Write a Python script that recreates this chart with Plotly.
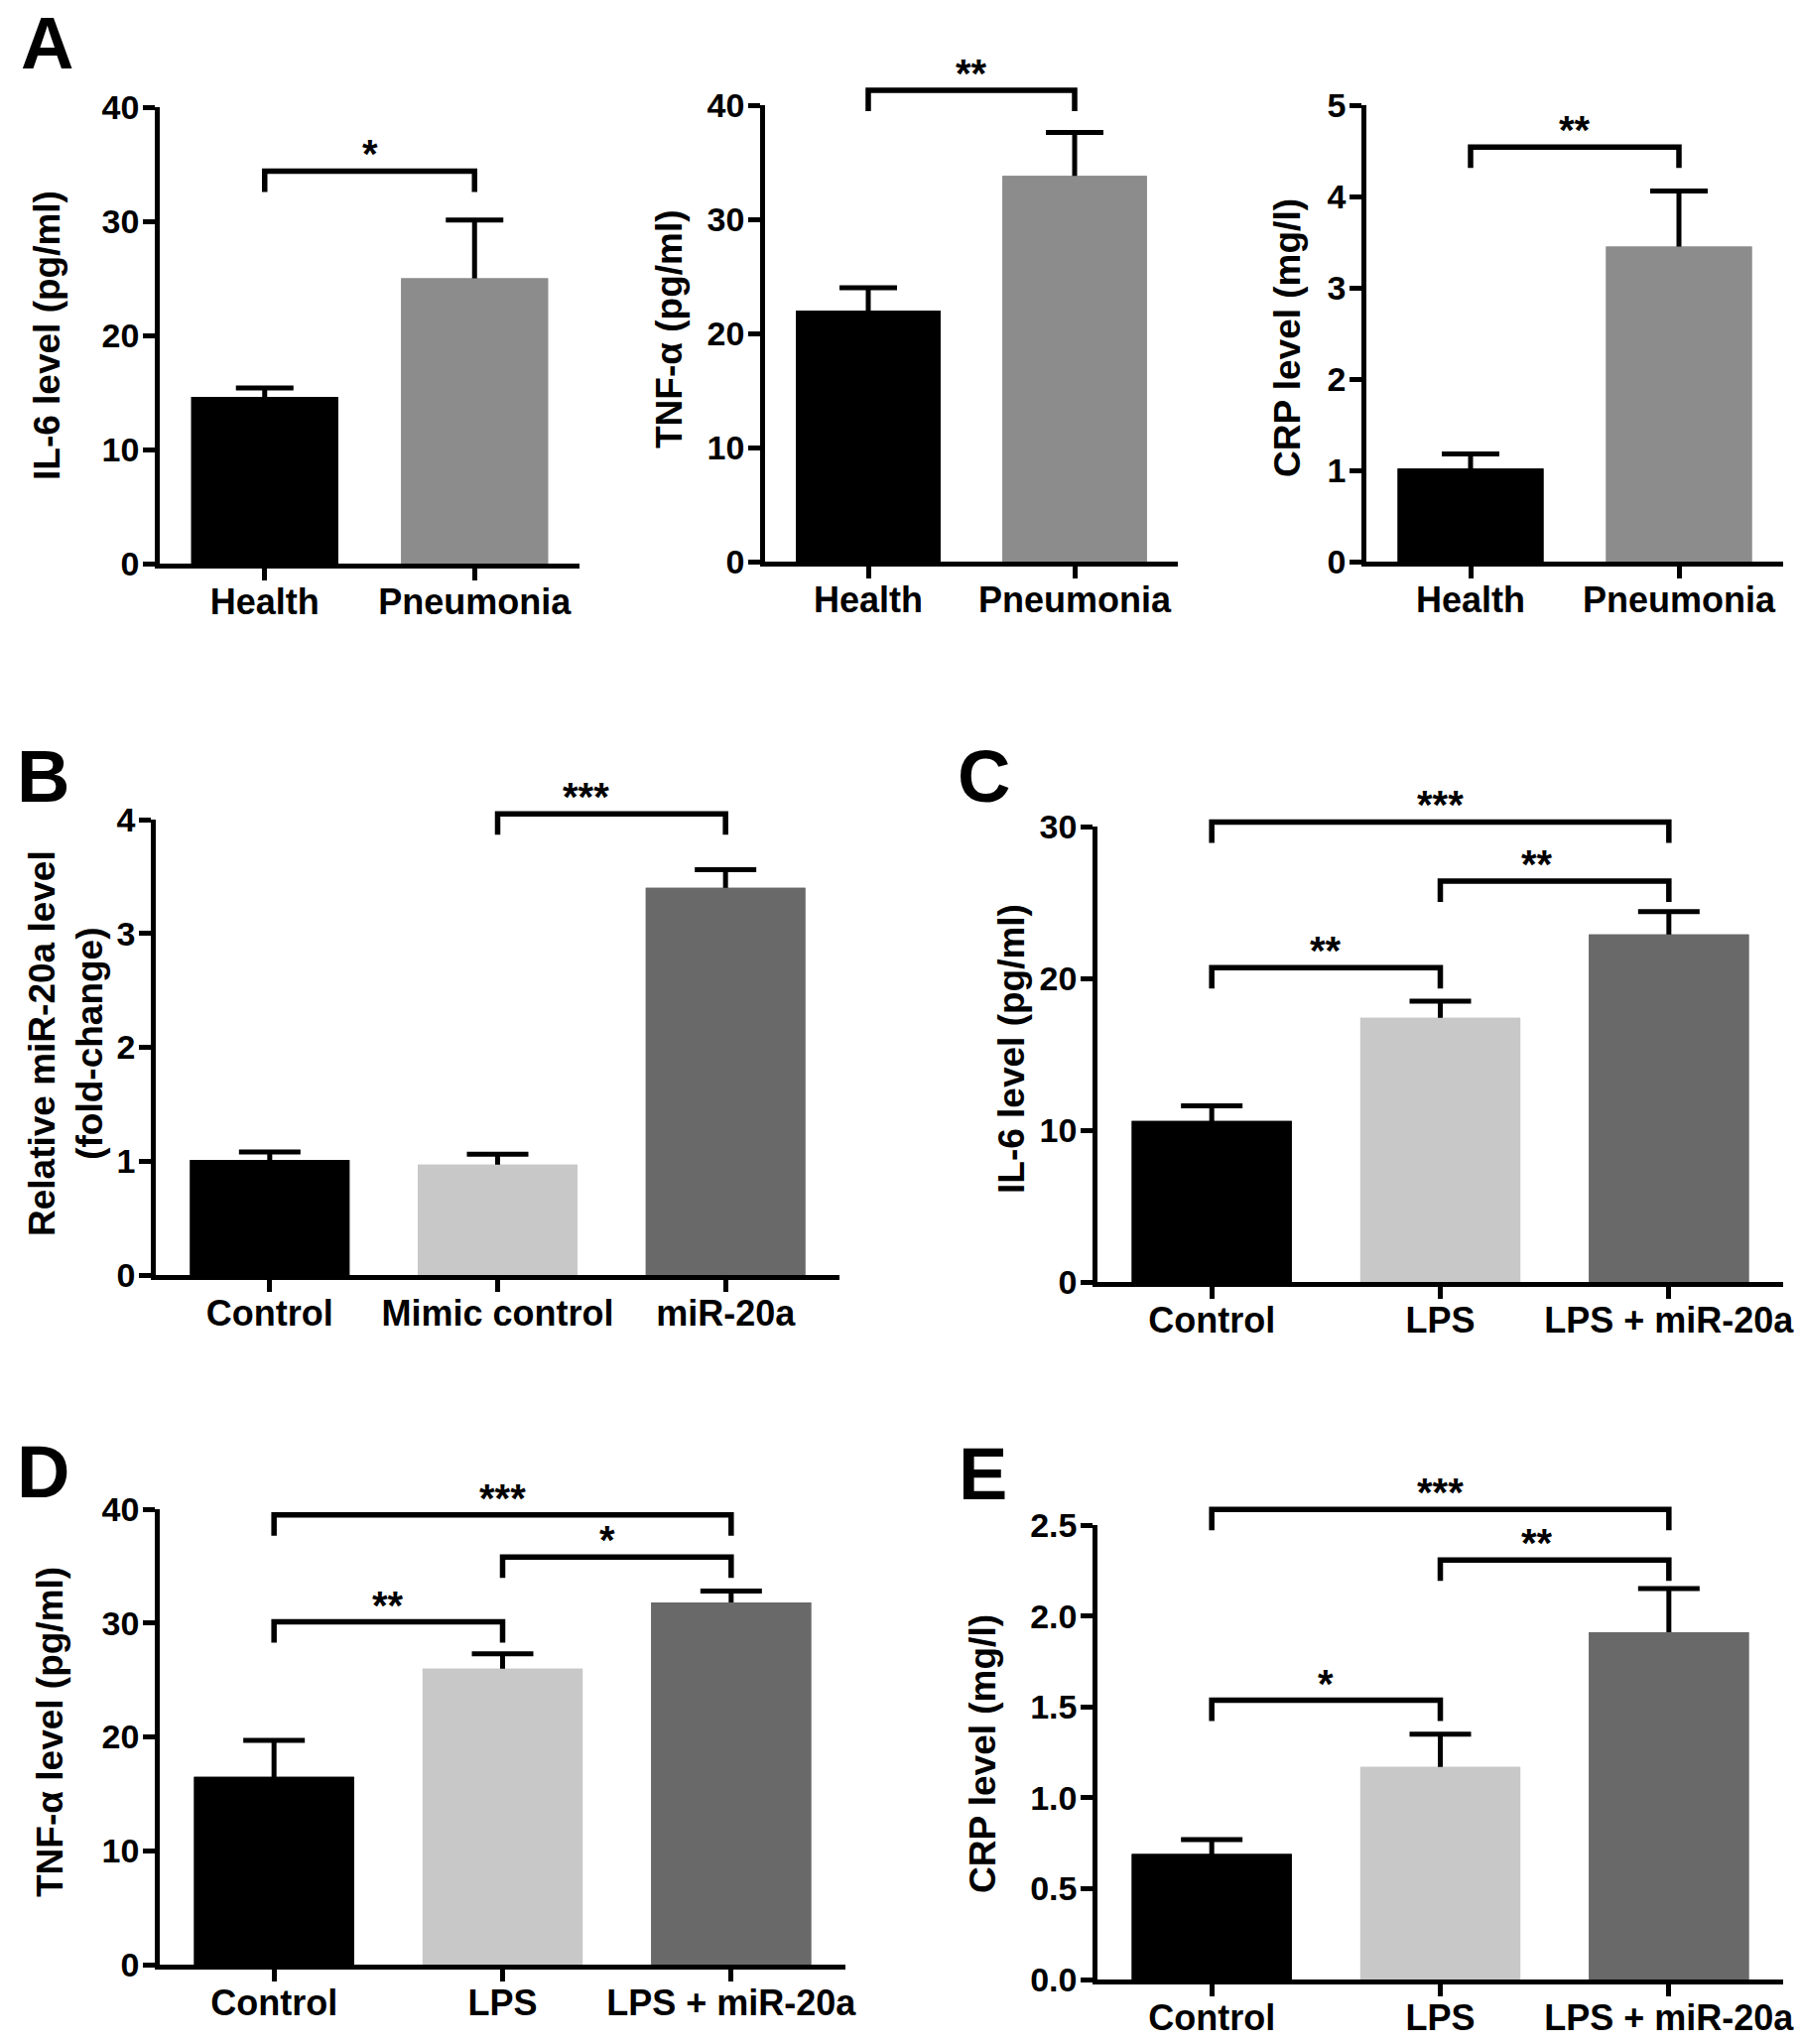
import plotly.graph_objects as go

W, H = 1815, 2060
FONT = "Liberation Sans, Arial, sans-serif"

# ---------------- data ----------------
a_cats = ["Health", "Pneumonia"]
a1_mean = [14.6, 25.0]
a1_sem = [0.8, 5.1]
a2_mean = [22.0, 33.8]
a2_sem = [2.0, 3.8]
a3_mean = [1.02, 3.45]
a3_sem = [0.16, 0.61]

b_cats = ["Control", "Mimic control", "miR-20a"]
b_mean = [1.01, 0.97, 3.40]
b_sem = [0.07, 0.09, 0.16]

lps_cats = ["Control", "LPS", "LPS + miR-20a"]
c_mean = [10.6, 17.4, 22.9]
c_sem = [1.0, 1.1, 1.5]
d_mean = [16.5, 26.0, 31.8]
d_sem = [3.2, 1.3, 1.0]
e_mean = [0.69, 1.17, 1.91]
e_sem = [0.08, 0.18, 0.24]

# significance brackets: (group i, group j, bracket height, label)
a1_sig = [(0, 1, 34.4, "*")]
a2_sig = [(0, 1, 41.3, "**")]
a3_sig = [(0, 1, 4.54, "**")]
b_sig = [(1, 2, 4.05, "***")]
c_sig = [(0, 2, 30.3, "***"), (1, 2, 26.4, "**"), (0, 1, 20.7, "**")]
d_sig = [(0, 2, 39.5, "***"), (1, 2, 35.8, "*"), (0, 1, 30.1, "**")]
e_sig = [(0, 2, 2.586, "***"), (1, 2, 2.307, "**"), (0, 1, 1.536, "*")]

# ---------------- styles ----------------
COL_A = ["#000000", "#8c8c8c"]
COL_3 = ["#000000", "#c8c8c8", "#696969"]

panels = [
    dict(cats=a_cats, mean=a1_mean, sem=a1_sem, colors=COL_A, px=(161, 584), py=(108, 568),
         ymax=40, dtick=10, fmt="", title="IL-6 level (pg/ml)", tpos=(47, 338), sig=a1_sig, cap=29),
    dict(cats=a_cats, mean=a2_mean, sem=a2_sem, colors=COL_A, px=(771, 1187), py=(106, 566),
         ymax=40, dtick=10, fmt="", title="TNF-α (pg/ml)", tpos=(675, 332), sig=a2_sig, cap=29),
    dict(cats=a_cats, mean=a3_mean, sem=a3_sem, colors=COL_A, px=(1377, 1797), py=(106, 566),
         ymax=5, dtick=1, fmt="", title="CRP level (mg/l)", tpos=(1298, 341), sig=a3_sig, cap=29),
    dict(cats=b_cats, mean=b_mean, sem=b_sem, colors=COL_3, px=(157, 846), py=(826, 1285),
         ymax=4, dtick=1, fmt="", title="Relative miR-20a level<br>(fold-change)", tpos=(66, 1052),
         sig=b_sig, cap=31),
    dict(cats=lps_cats, mean=c_mean, sem=c_sem, colors=COL_3, px=(1106, 1797), py=(833, 1292),
         ymax=30, dtick=10, fmt="", title="IL-6 level (pg/ml)", tpos=(1019, 1057), sig=c_sig, cap=31),
    dict(cats=lps_cats, mean=d_mean, sem=d_sem, colors=COL_3, px=(161, 852), py=(1521, 1980),
         ymax=40, dtick=10, fmt="", title="TNF-α level (pg/ml)", tpos=(50, 1746), sig=d_sig, cap=31),
    dict(cats=lps_cats, mean=e_mean, sem=e_sem, colors=COL_3, px=(1106, 1797), py=(1537, 1995),
         ymax=2.5, dtick=0.5, fmt=".1f", title="CRP level (mg/l)", tpos=(990, 1767), sig=e_sig, cap=31),
]

letters = [("A", 19, 44), ("B", 15, 782), ("C", 963, 782), ("D", 15, 1483), ("E", 964, 1485)]

fig = go.Figure()
shapes = []
annotations = []
layout = {}

for k, p in enumerate(panels, start=1):
    xn = "x" if k == 1 else f"x{k}"
    yn = "y" if k == 1 else f"y{k}"
    n = len(p["cats"])
    xd = [p["px"][0] / W, p["px"][1] / W]
    yd = [1 - p["py"][1] / H, 1 - p["py"][0] / H]
    plot_h = p["py"][1] - p["py"][0]
    unit = p["ymax"] / plot_h  # data units per pixel

    # bar carrying the (upper) error bar; its lower stub is hidden by the bar drawn on top
    fig.add_trace(go.Bar(
        x=p["cats"], y=p["mean"], xaxis=xn, yaxis=yn, width=0.7,
        marker=dict(color=p["colors"], line=dict(width=0)),
        error_y=dict(type="data", array=p["sem"], arrayminus=[12 * unit] * n, symmetric=False,
                     color="black", thickness=5, width=p["cap"]),
        showlegend=False, hoverinfo="skip"))
    fig.add_trace(go.Bar(
        x=p["cats"], y=p["mean"], xaxis=xn, yaxis=yn, width=0.7,
        marker=dict(color=p["colors"], line=dict(width=0)),
        showlegend=False))

    layout["xaxis" if k == 1 else f"xaxis{k}"] = dict(
        domain=xd, anchor=yn, type="category", range=[-0.5, n - 0.5], automargin=False,
        showline=True, linecolor="black", linewidth=4.5, ticks="outside", ticklen=12,
        tickwidth=4.5, tickcolor="black", showgrid=False, zeroline=False, ticklabelstandoff=-9,
        tickfont=dict(family=FONT, size=36, color="black", weight="bold"))
    layout["yaxis" if k == 1 else f"yaxis{k}"] = dict(
        domain=yd, anchor=xn, range=[0, p["ymax"]], tick0=0, dtick=p["dtick"], tickformat=p["fmt"],
        automargin=False, ticklabelstandoff=-3,
        showline=True, linecolor="black", linewidth=4.5, ticks="outside", ticklen=12,
        tickwidth=4.5, tickcolor="black", showgrid=False, zeroline=False,
        tickfont=dict(family=FONT, size=34, color="black", weight="bold"))

    # brackets are placed in axis-domain fractions (value / axis max) so they may sit above the axis top
    drop = 21 / plot_h
    for (i, j, ytop, lab) in p["sig"]:
        xa = (i + 0.5) / n
        xb = (j + 0.5) / n
        yf = ytop / p["ymax"]
        shapes.append(dict(
            type="path", xref=f"{xn} domain", yref=f"{yn} domain",
            path=f"M {xa} {yf - drop} L {xa} {yf} L {xb} {yf} L {xb} {yf - drop}",
            line=dict(color="black", width=5.5)))
        annotations.append(dict(
            xref=f"{xn} domain", yref=f"{yn} domain", x=(xa + xb) / 2, y=yf, yanchor="bottom",
            yshift=-7, text=lab, showarrow=False,
            font=dict(family=FONT, size=40, color="black", weight="bold")))

    annotations.append(dict(
        xref="paper", yref="paper", x=p["tpos"][0] / W, y=1 - p["tpos"][1] / H,
        xanchor="center", yanchor="middle", textangle=-90, showarrow=False, text=p["title"],
        font=dict(family=FONT, size=37, color="black", weight="bold")))

for (t, lx, ly) in letters:
    annotations.append(dict(
        xref="paper", yref="paper", x=lx / W, y=1 - ly / H, xanchor="left", yanchor="middle",
        showarrow=False, text=t, font=dict(family=FONT, size=74, color="black", weight="bold")))

fig.update_layout(
    template="none",
    width=W, height=H, margin=dict(l=0, r=0, t=0, b=0, autoexpand=False), barmode="overlay",
    paper_bgcolor="white", plot_bgcolor="white", showlegend=False,
    shapes=shapes, annotations=annotations, **layout)

fig.write_html("out.html", config={"displayModeBar": False},
               post_script="document.body.style.margin='0';")
